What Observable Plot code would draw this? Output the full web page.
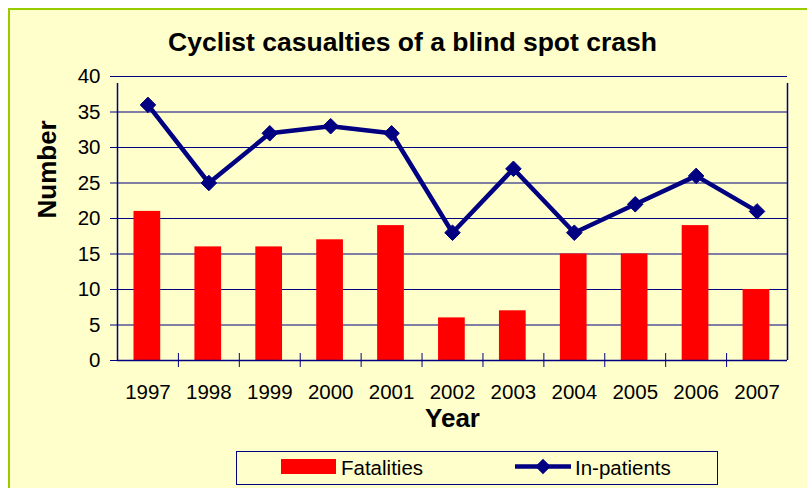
<!DOCTYPE html>
<html>
<head>
<meta charset="utf-8">
<script src="https://cdn.jsdelivr.net/npm/d3@7"></script>
<script src="https://cdn.jsdelivr.net/npm/@observablehq/plot@0.6"></script>
<style>
  body { margin: 0; background: #fff; }
  #wrap { position: relative; width: 807px; height: 488px; overflow: hidden; background: #fff; font-family: "Liberation Sans", Arial, sans-serif; }
  #panel { position: absolute; left: 8px; top: 8px; width: 900px; height: 600px; background: #FFFFCC; border: 2px solid #99CC00; }
  #chart { position: absolute; left: 0; top: 0; }
  #legend { position: absolute; left: 236px; top: 451px; }
</style>
</head>
<body>
<div id="wrap">
  <div id="panel"></div>
  <div id="chart"></div>
  <div id="legend"></div>
</div>
<script>
const years = ["1997","1998","1999","2000","2001","2002","2003","2004","2005","2006","2007"];
const fatalities = [21, 16, 16, 17, 19, 6, 7, 15, 15, 19, 10];
const inpatients = [36, 25, 32, 33, 32, 18, 27, 18, 22, 26, 21];
const yTicks = [0, 5, 10, 15, 20, 25, 30, 35, 40];
const title = "Cyclist casualties of a blind spot crash";
const xLabel = "Year";
const yLabel = "Number";
const seriesNames = ["Fatalities", "In-patients"];

const data = years.map((year, i) => ({i, year, fatalities: fatalities[i], inpatients: inpatients[i]}));
const boundaries = d3.range(0, years.length + 1);
const NAVY = "#000080";
const RED = "#FF0000";

const chart = Plot.plot({
  width: 807,
  height: 488,
  marginLeft: 117,
  marginRight: 20,
  marginTop: 76,
  marginBottom: 128,
  style: {background: "transparent", fontFamily: "'Liberation Sans', Arial, sans-serif", fontSize: "20px", color: "#000", overflow: "visible"},
  x: {domain: [0, years.length], axis: null},
  y: {domain: [0, 40], axis: null},
  marks: [
    Plot.ruleY(yTicks.filter(t => t > 0), {stroke: NAVY, strokeWidth: 1}),
    Plot.rectY(data, {x: "i", interval: 1, y: "fatalities", fill: RED, insetLeft: 16.5, insetRight: 17.7}),
    Plot.ruleY([0], {stroke: NAVY, strokeWidth: 1.5}),
    Plot.ruleX([0, years.length], {y1: 0, y2: 40, insetBottom: -7, stroke: NAVY, strokeWidth: 1.5}),
    Plot.ruleX(boundaries.slice(1, -1), {y1: 0, y2: 0, insetTop: -7, insetBottom: -7, stroke: NAVY, strokeWidth: 1}),
    Plot.axisY({ticks: yTicks, tickSize: 7, tickPadding: 10, stroke: NAVY, fill: "#000", fontSize: 20.5, label: null}),
    Plot.axisX({ticks: data.map(d => d.i + 0.5), tickFormat: v => years[Math.floor(v)], tickSize: 0, tickPadding: 23.5, fill: "#000", fontSize: 20.5, label: null}),
    Plot.line(data, {x: d => d.i + 0.5, y: "inpatients", stroke: NAVY, strokeWidth: 4.5, strokeLinejoin: "miter"}),
    Plot.dot(data, {x: d => d.i + 0.5, y: "inpatients", symbol: "diamond2", r: 7, fill: NAVY, stroke: NAVY, strokeWidth: 1}),
    Plot.text([title], {frameAnchor: "top", dx: -40, dy: -34, lineAnchor: "middle", fontSize: 26.5, fontWeight: "bold", fill: "#000"}),
    Plot.text([xLabel], {frameAnchor: "bottom", dy: 58.5, lineAnchor: "middle", fontSize: 26, fontWeight: "bold", fill: "#000"}),
    Plot.text([yLabel], {frameAnchor: "left", dx: -70, rotate: -90, lineAnchor: "middle", fontSize: 26, fontWeight: "bold", fill: "#000"})
  ]
});
document.getElementById("chart").appendChild(chart);

// Legend
const lg = d3.select("#legend").append("svg").attr("width", 483).attr("height", 35)
  .style("font-family", "'Liberation Sans', Arial, sans-serif").style("font-size", "20.5px");
lg.append("rect").attr("x", 0.5).attr("y", 0.5).attr("width", 481).attr("height", 33).attr("fill", "none").attr("stroke", NAVY).attr("stroke-width", 1);
lg.append("rect").attr("x", 45).attr("y", 8).attr("width", 55).attr("height", 15).attr("fill", RED);
lg.append("text").attr("x", 105).attr("y", 24).text(seriesNames[0]);
lg.append("line").attr("x1", 279).attr("x2", 335).attr("y1", 15.5).attr("y2", 15.5).attr("stroke", NAVY).attr("stroke-width", 4.5);
lg.append("path").attr("transform", "translate(307,15.5)").attr("d", d3.symbol(d3.symbolDiamond2, Math.PI * 49)()).attr("fill", NAVY);
lg.append("text").attr("x", 339).attr("y", 24).text(seriesNames[1]);
</script>
</body>
</html>
